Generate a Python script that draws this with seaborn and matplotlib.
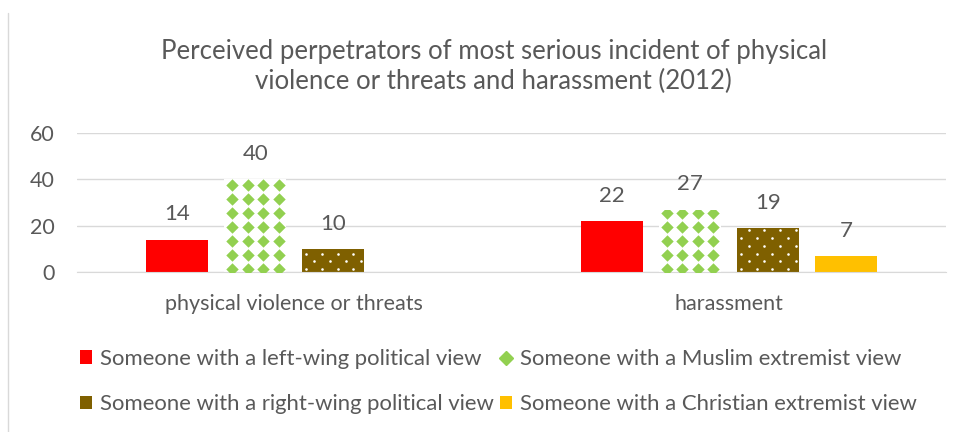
"""Perceived perpetrators of most serious incident (2012) - grouped bar chart."""
import numpy as np
import pandas as pd
import matplotlib
matplotlib.use('Agg')
import matplotlib.pyplot as plt
from matplotlib.lines import Line2D
import seaborn as sns

categories = ['physical violence or threats', 'harassment']
series = [
    'Someone with a left-wing political view',
    'Someone with a Muslim extremist view',
    'Someone with a right-wing political view',
    'Someone with a Christian extremist view',
]
left_wing = [14, 22]
muslim = [40, 27]
right_wing = [10, 19]
christian = [np.nan, 7]
y_ticks = [0, 20, 40, 60]

colors = ['#FF0000', '#92D050', '#7F6000', '#FFC000']
title = ('Perceived perpetrators of most serious incident of physical\n'
         'violence or threats and harassment (2012)')

rows = []
for s, vals in zip(series, [left_wing, muslim, right_wing, christian]):
    for c, v in zip(categories, vals):
        rows.append({'category': c, 'series': s, 'value': v})
df = pd.DataFrame(rows).dropna()

sns.set_style('white')
plt.rcParams['font.family'] = ['Lato', 'DejaVu Sans']
text_col = '#595959'
grid_col = '#d9d9d9'

fig = plt.figure(figsize=(9.68, 4.32), dpi=100)
ax = fig.add_axes([0.0795, 0.370, 0.898, 0.322])

sns.barplot(data=df, x='category', y='value', hue='series',
            order=categories, hue_order=series, palette=colors,
            width=0.718, gap=0.205, ax=ax, legend=False, saturation=1)

ax.set_ylim(0, 60)
ax.set_yticks(y_ticks)
ax.set_xlim(-0.5, 1.5)

inv = ax.transData.inverted()


def pattern_fill(bar, dx, dy, x_off, y_off, stagger, **kw):
    """Overlay a marker pattern (spacing in pixels) clipped to one bar."""
    (px0, py0), (px1, py1) = ax.transData.transform(
        [(bar.get_x(), 0), (bar.get_x() + bar.get_width(), bar.get_height())])
    pts = []
    for i, y in enumerate(np.arange(py0 + y_off, py1 + dy, dy)):
        shift = dx / 2 if (stagger and i % 2) else 0
        for x in np.arange(px0 + x_off + shift - dx, px1 + dx, dx):
            pts.append((x, y))
    dpts = inv.transform(np.array(pts))
    sc = ax.scatter(dpts[:, 0], dpts[:, 1], linewidths=0, zorder=3, **kw)
    sc.set_clip_path(bar)


for cont, s in zip(ax.containers, series):
    for bar in cont:
        bar.set_linewidth(0)
        if s == series[1]:
            # green diamonds on white
            bar.set_facecolor('white')
            pattern_fill(bar, 15.5, 14.0, 8, 3, False,
                         marker='D', s=40, color=colors[1])
        elif s == series[2]:
            # small white dots on brown
            pattern_fill(bar, 15.7, 7.8, 4, 3, True,
                         marker='o', s=3.5, color='white')
    ax.bar_label(cont, fmt='%g', padding=11, fontsize=16, color=text_col)

ax.yaxis.grid(True, color=grid_col, linewidth=1)
ax.set_axisbelow(True)
for side in ['top', 'right', 'left']:
    ax.spines[side].set_visible(False)
ax.spines['bottom'].set_color(grid_col)
ax.tick_params(axis='both', length=0, labelsize=15.5, labelcolor=text_col)
ax.tick_params(axis='x', pad=16)
ax.tick_params(axis='y', pad=16)
ax.set_xlabel('')
ax.set_ylabel('')

fig.text(0.51, 0.847, title, ha='center', va='center', fontsize=18.5,
         color=text_col, linespacing=1.25)

# legend ordered row-wise: left/Muslim, right/Christian
handles = [cont[0] for cont in ax.containers]
handles[1] = Line2D([], [], marker='D', linestyle='none', color=colors[1],
                    markersize=7)
order = [0, 2, 1, 3]
fig.legend([handles[i] for i in order], [series[i] for i in order],
           loc='center', bbox_to_anchor=(0.515, 0.117), ncol=2, frameon=False,
           fontsize=15.9, labelcolor=text_col, handlelength=0.55,
           handleheight=0.55, handletextpad=0.36, columnspacing=0.3,
           labelspacing=1.15)

fig.add_artist(Line2D([0.008, 0.008], [0.0, 0.97], transform=fig.transFigure,
                      color=grid_col, linewidth=1))

fig.savefig('out.png', dpi=100)
